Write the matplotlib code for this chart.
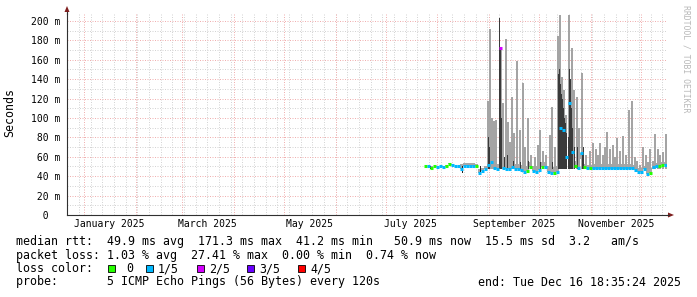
import numpy as np
import matplotlib
matplotlib.use('Agg')
import matplotlib.pyplot as plt
import matplotlib.dates as mdates
from matplotlib.patches import Polygon, Rectangle
from datetime import datetime, timedelta

end_time = datetime(2025, 12, 16, 18, 35, 24)
start_time = end_time - timedelta(days=360)
origin = datetime(2025, 7, 1)

# median rtt [ms], one value every 1.8 days starting 23.6 days after July 1
med_first = 23.6
med_step = 1.8
median_ms = [50.2, 50.0, 48.5, 50.0, 49.5, 50.0, 49.8, 51.0, 52.3, 52.0,
             50.5, 50.3, 47.0, 50.0, 50.0, 50.0, 50.0, 50.0, 43.0, 45.0,
             47.0, 52.0, 55.0, 48.0, 47.0, 172.0, 48.0, 47.0, 47.0, 49.0,
             47.0, 47.0, 46.0, 44.0, 45.0, 49.0, 45.0, 44.0, 46.0, 49.0,
             49.0, 44.0, 43.0, 43.0, 44.0, 90.0, 88.0, 60.0, 115.0, 65.0,
             50.0, 48.0, 64.0, 49.0, 48.0, 48.0, 48.0, 48.0, 48.0, 48.0,
             48.0, 48.0, 48.0, 48.0, 48.0, 48.0, 48.0, 48.0, 48.0, 48.0,
             46.0, 44.0, 44.0, 47.0, 42.0, 43.0, 49.0, 50.0, 51.0, 51.5,
             51.5]
# loss level per sample (0 .. 4 of 5 pings lost)
median_loss = [0, 1, 0, 0, 1, 1, 1, 0, 0, 1,
               1, 1, 1, 1, 1, 1, 1, 0, 1, 1,
               1, 1, 1, 1, 1, 2, 1, 1, 1, 1,
               1, 1, 1, 1, 0, 0, 1, 1, 1, 0,
               1, 1, 1, 0, 1, 1, 1, 1, 1, 1,
               0, 1, 1, 0, 1, 0, 1, 1, 1, 1,
               1, 1, 1, 1, 1, 1, 1, 1, 1, 1,
               1, 1, 1, 1, 1, 0, 1, 1, 0, 0,
               1]
# upper edge of the light smoke band per sample [ms]
smoke_top = [51, 51, 51, 51, 51, 51, 51, 52, 54, 53,
             51, 51, 53, 54, 54, 54, 54, 53, 47, 48,
             50, 56, 58, 54, 53, 55, 54, 53, 53, 55,
             53, 53, 52, 50, 51, 55, 51, 50, 52, 55,
             55, 50, 49, 49, 50, 58, 58, 58, 58, 58,
             56, 54, 58, 53, 52, 52, 53, 53, 53, 53,
             53, 53, 53, 53, 53, 53, 53, 53, 53, 52,
             50, 48, 48, 51, 47, 48, 53, 54, 55, 55,
             55]

# outer smoke spikes (max ping), days after July 1
spike_day = [61.4, 62.6, 63.8, 65.0, 66.2, 68.6, 70.4, 72.2, 73.4, 74.6,
             75.8, 77.0, 78.8, 80.6, 82.4, 83.6, 85.4, 87.2, 89.6, 91.4,
             92.6, 94.4, 96.2, 98.6, 99.8, 101.6, 103.4, 104.6, 105.8, 107.0,
             108.2, 110.0, 111.8, 113.0, 114.8, 116.0, 117.8, 120.2, 122.6, 124.4,
             126.2, 127.4, 128.6, 130.4, 131.6, 132.8, 134.6, 136.4, 137.6, 138.8,
             140.6, 142.4, 144.2, 146.0, 147.8, 149.6, 150.8, 152.6, 154.4, 156.2,
             157.4, 158.6, 160.4, 161.6, 163.4, 164.6, 166.4, 168.2]
spike_top = [117, 192, 100, 97, 98, 150, 115, 181, 96, 75,
             122, 85, 159, 88, 136, 70, 100, 62, 60, 72,
             88, 66, 62, 82, 111, 70, 185, 206, 142, 129,
             103, 206, 172, 129, 122, 90, 146, 62, 66, 74,
             68, 62, 74, 62, 70, 86, 68, 72, 60, 79,
             66, 81, 62, 108, 118, 60, 56, 52, 70, 62,
             55, 68, 56, 84, 68, 62, 65, 84]

# inner (dark) smoke spikes
inner_day = [61.4, 62.0, 68.0, 68.6, 69.2, 71.0, 72.8, 76.4, 80.6, 85.4,
             92.6, 99.8, 103.4, 104.0, 104.6, 105.2, 105.8, 106.4, 107.0, 107.6,
             108.2, 109.4, 110.0, 110.6, 111.2, 111.8, 113.0, 114.8, 117.8, 118.4]
inner_top = [80, 70, 203, 172, 100, 60, 62, 56, 55, 56,
             55, 55, 145, 150, 135, 125, 120, 110, 100, 95,
             85, 80, 150, 140, 110, 90, 70, 70, 64, 70]

# short dips of the inner smoke below the median
dip_day = [27.0, 45.8, 56.6]
dip_low = [47, 43, 42]

loss_colors = ['#26ff00', '#00b8ff', '#d400ff', '#6a00ff', '#ff0000']
loss_labels = [' 0', '1/5', '2/5', '3/5', '4/5']

W, H = 697, 297
fig = plt.figure(figsize=(W / 100, H / 100), dpi=100)
ax = fig.add_axes([67 / W, 82 / H, 600 / W, 202 / H])
ymax = 208.2
t0 = mdates.date2num(start_time)
t1 = mdates.date2num(end_time)
ax.set_xlim(t0, t1)
ax.set_ylim(0, ymax)

def fx(x, y):
    return (x / W, 1 - y / H)

# grid
grid_c = '#d4d4d4'
mgrid_c = '#f0b0b0'
gl = dict(lw=0.72, ls=(0, (1, 1.5)))
day = datetime(2024, 12, 22)
while day < end_time:
    ax.axvline(mdates.date2num(day), color=grid_c, zorder=0, **gl)
    day += timedelta(days=7)
for m in range(1, 13):
    ax.axvline(mdates.date2num(datetime(2025, m, 1)), color=mgrid_c, zorder=0.5, **gl)
for v in range(10, 210, 10):
    if v % 20:
        ax.axhline(v, color=grid_c, zorder=0, **gl)
    else:
        ax.axhline(v, color=mgrid_c, zorder=0.5, **gl)

base = mdates.date2num(origin)
med_t = base + med_first + med_step * np.arange(len(median_ms))
med = np.array(median_ms)

# light smoke band
ax.bar(med_t, np.array(smoke_top) - med, bottom=med, width=med_step,
       color='#a8a8a8', linewidth=0, zorder=2)
# outer spikes
sp = np.array(spike_top)
ax.bar(base + np.array(spike_day), sp - 47, bottom=47, width=1.0,
       color='#a4a4a4', linewidth=0, zorder=2)
# inner spikes
it = np.array(inner_top)
ax.bar(base + np.array(inner_day), it - 47, bottom=47, width=0.6,
       color='#3a3a3a', linewidth=0, zorder=3)
ax.bar(base + np.array(dip_day), 50 - np.array(dip_low), bottom=dip_low, width=0.65,
       color='#222222', linewidth=0, zorder=3)
# median coloured by loss
for t, v, l in zip(med_t, median_ms, median_loss):
    ax.hlines(v, t - med_step / 2, t + med_step / 2, colors=loss_colors[l],
              lw=2.2, zorder=4)

# axes
for s in ['top', 'right']:
    ax.spines[s].set_visible(False)
for s in ['left', 'bottom']:
    ax.spines[s].set_color('#303030')
    ax.spines[s].set_linewidth(0.8)
ax.tick_params(length=0)

yt = list(range(0, 201, 20))
ax.set_yticks(yt)
ax.set_yticklabels(['  0  '] + ['%3d m' % v for v in yt[1:]],
                   family='DejaVu Sans Mono', fontsize=7)
ax.tick_params(axis='y', pad=5)
xt = [mdates.date2num(datetime(2025, m, 16)) for m in (1, 3, 5, 7, 9, 11)]
ax.set_xticks(xt)
ax.set_xticklabels(['January 2025', 'March 2025', 'May 2025', 'July 2025',
                    'September 2025', 'November 2025'],
                   family='DejaVu Sans Mono', fontsize=7)
ax.tick_params(axis='x', pad=3)

# arrows
arrow_c = '#7f1f1f'
fig.add_artist(Polygon([fx(67, 6), fx(64.5, 12), fx(69.5, 12)], closed=True,
                       transform=fig.transFigure, color=arrow_c, lw=0))
fig.add_artist(Polygon([fx(674, 215), fx(668, 212.5), fx(668, 217.5)], closed=True,
                       transform=fig.transFigure, color=arrow_c, lw=0))
fig.add_artist(plt.Line2D([667 / W, 669 / W], [1 - 215 / H] * 2, color='#303030',
                          lw=0.8, transform=fig.transFigure))
fig.add_artist(plt.Line2D([67 / W] * 2, [1 - 12 / H, 1 - 14 / H], color='#303030',
                          lw=0.8, transform=fig.transFigure))

mono = 'DejaVu Sans Mono'
fig.text(*fx(10, 113), 'Seconds', rotation=90, ha='center', va='center',
         family=mono, fontsize=8.4)
fig.text(*fx(686, 59), 'RRDTOOL / TOBI OETIKER', rotation=270, ha='center',
         va='center', family=mono, fontsize=5.9, color='#b8b8b8')

fs = 8.4
fig.text(*fx(16, 241), 'median rtt:  49.9 ms avg  171.3 ms max  41.2 ms min   '
         '50.9 ms now  15.5 ms sd  3.2   am/s', family=mono, fontsize=fs, va='center')
fig.text(*fx(16, 255), 'packet loss: 1.03 % avg  27.41 % max  0.00 % min  0.74 % now',
         family=mono, fontsize=fs, va='center')
fig.text(*fx(16, 268.5), 'loss color:', family=mono, fontsize=fs, va='center')
box_x = [108, 146, 197, 247, 298]
for bx, c, lab in zip(box_x, loss_colors, loss_labels):
    fig.add_artist(Rectangle(fx(bx, 272), 7 / W, 7 / H, transform=fig.transFigure,
                             facecolor=c, edgecolor='black', lw=0.6))
    fig.text(*fx(bx + 12, 268.5), lab, family=mono, fontsize=fs, va='center')
fig.text(*fx(16, 282), 'probe:       5 ICMP Echo Pings (56 Bytes) every 120s',
         family=mono, fontsize=fs, va='center')
fig.text(*fx(681, 282), 'end: Tue Dec 16 18:35:24 2025', family=mono, fontsize=fs,
         va='center', ha='right')

fig.savefig('out.png', dpi=100)
